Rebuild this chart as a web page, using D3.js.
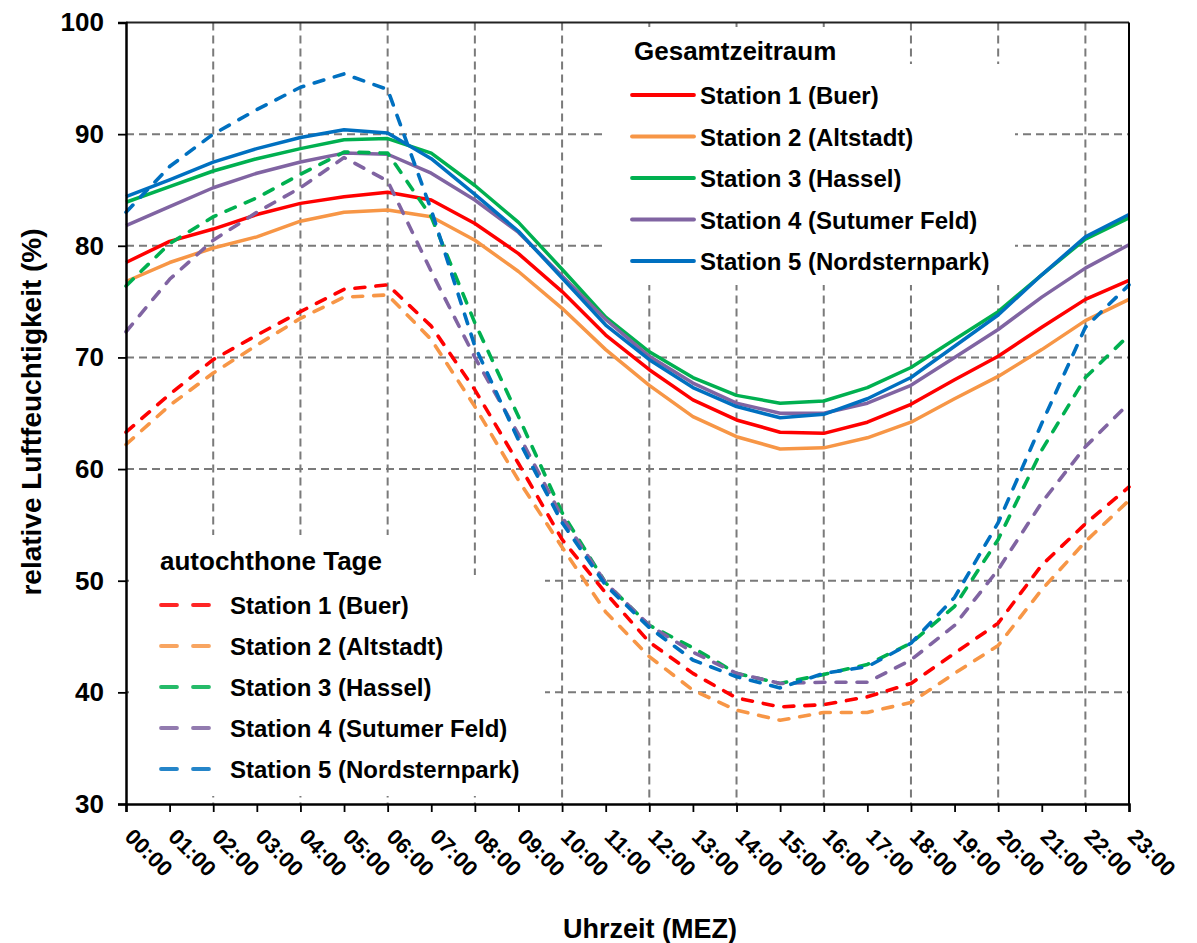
<!DOCTYPE html>
<html>
<head>
<meta charset="utf-8">
<script src="https://cdn.jsdelivr.net/npm/d3@7"></script>
<style>
  html, body { margin: 0; padding: 0; background: #fff; }
  svg { display: block; font-family: "Liberation Sans", Arial, sans-serif; font-weight: bold; }
</style>
</head>
<body>
<svg id="chart" width="1197" height="943"></svg>
<script>
// ---------- data ----------
const hours = ["00:00","01:00","02:00","03:00","04:00","05:00","06:00","07:00","08:00","09:00","10:00","11:00",
               "12:00","13:00","14:00","15:00","16:00","17:00","18:00","19:00","20:00","21:00","22:00","23:00"];
const stationNames = ["Station 1 (Buer)","Station 2 (Altstadt)","Station 3 (Hassel)","Station 4 (Sutumer Feld)","Station 5 (Nordsternpark)"];
const stationColors = ["#FF0000","#F79646","#00B050","#8064A2","#0070C0"];
const yTicks = [30,40,50,60,70,80,90,100];
const gridHours = ["02:00","04:00","06:00","08:00","10:00","12:00","14:00","16:00","18:00","20:00","22:00"];

// Gesamtzeitraum (solid)
const gesamtS1 = [78.5,80.4,81.5,82.8,83.8,84.4,84.8,84.1,82.0,79.3,75.9,72.0,68.9,66.2,64.4,63.3,63.2,64.2,65.8,68.0,70.1,72.7,75.2,76.9];
const gesamtS2 = [76.8,78.5,79.8,80.8,82.2,83.0,83.2,82.6,80.5,77.7,74.4,70.7,67.5,64.7,62.9,61.8,61.9,62.8,64.2,66.3,68.3,70.7,73.3,75.2];
const gesamtS3 = [83.9,85.3,86.7,87.8,88.7,89.5,89.6,88.3,85.4,82.1,77.9,73.6,70.5,68.2,66.6,65.9,66.1,67.3,69.1,71.6,74.1,77.4,80.6,82.5];
const gesamtS4 = [81.8,83.5,85.2,86.5,87.5,88.3,88.2,86.5,84.1,81.2,77.3,73.4,70.1,67.7,65.9,65.0,65.0,65.9,67.5,70.0,72.5,75.4,78.0,80.1];
const gesamtS5 = [84.4,85.9,87.5,88.7,89.7,90.4,90.1,87.8,84.6,81.3,77.1,72.9,69.8,67.3,65.6,64.6,64.9,66.3,68.2,71.0,73.8,77.4,80.8,82.8];

// autochthone Tage (dashed)
const autoS1 = [63.3,66.7,69.8,72.0,74.1,76.1,76.5,72.8,67.1,60.5,53.7,48.9,44.5,41.7,39.5,38.7,38.9,39.6,40.8,43.5,46.2,51.4,55.1,58.4];
const autoS2 = [62.2,65.7,68.6,71.1,73.5,75.4,75.6,71.6,65.6,59.0,53.0,47.2,43.2,40.2,38.4,37.5,38.2,38.2,39.1,41.7,44.2,49.2,53.5,57.2];
const autoS3 = [76.4,80.2,82.6,84.3,86.4,88.4,88.3,82.6,73.1,64.7,56.1,49.8,46.0,44.0,41.7,40.8,41.6,42.5,44.4,47.7,53.7,61.7,68.2,72.0];
const autoS4 = [72.3,77.0,80.5,83.0,85.2,87.9,85.8,77.7,70.0,63.1,55.7,49.8,46.0,43.6,41.7,40.8,40.9,40.9,42.9,46.0,51.0,57.0,62.0,65.9];
const autoS5 = [83.0,87.1,90.0,92.2,94.2,95.4,94.0,83.2,71.0,62.6,55.2,49.6,45.8,42.9,41.4,40.4,41.7,42.3,44.4,48.5,55.2,64.1,72.7,76.5];

const gesamtSeries = [gesamtS1,gesamtS2,gesamtS3,gesamtS4,gesamtS5];
const autoSeries = [autoS1,autoS2,autoS3,autoS4,autoS5];

// ---------- layout ----------
const svg = d3.select("#chart");
const L = 126, R = 1129, T = 22.5, B = 804;
const x = d3.scalePoint().domain(hours).range([L, R]);
const y = d3.scaleLinear().domain([30, 100]).range([B, T]);

// gridlines
const grid = svg.append("g").attr("stroke", "#7a7a7a").attr("stroke-width", 2).attr("stroke-dasharray", "8,5");
grid.selectAll("line.h").data(yTicks.filter(v => v > 30 && v < 100)).join("line")
  .attr("x1", L).attr("x2", R).attr("y1", d => y(d)).attr("y2", d => y(d));
grid.selectAll("line.v").data(gridHours).join("line")
  .attr("x1", d => x(d)).attr("x2", d => x(d)).attr("y1", T).attr("y2", B);

// legend backgrounds (white boxes covering gridlines)
const bg = svg.append("g").attr("fill", "#fff");
bg.append("rect").attr("x", 603).attr("y", 27).attr("width", 265).attr("height", 40);
bg.append("rect").attr("x", 603).attr("y", 64).attr("width", 412).attr("height", 221);
bg.append("rect").attr("x", 129).attr("y", 535).attr("width", 336).attr("height", 42);
bg.append("rect").attr("x", 129).attr("y", 575).attr("width", 416).attr("height", 221);

// lines
const line = d3.line().x((d, i) => x(hours[i])).y(d => y(d));
const lines = svg.append("g").attr("fill", "none").attr("stroke-linejoin", "round");
gesamtSeries.forEach((s, i) => {
  lines.append("path").datum(s).attr("d", line)
    .attr("stroke", stationColors[i]).attr("stroke-width", 3.5);
});
autoSeries.forEach((s, i) => {
  lines.append("path").datum(s).attr("d", line)
    .attr("stroke", stationColors[i]).attr("stroke-width", 3.6)
    .attr("stroke-dasharray", "10,11").attr("stroke-linecap", "round");
});

// frame
svg.append("line").attr("x1", L).attr("x2", R).attr("y1", T).attr("y2", T).attr("stroke", "#222").attr("stroke-width", 2);
svg.append("line").attr("x1", R).attr("x2", R).attr("y1", T).attr("y2", B).attr("stroke", "#000").attr("stroke-width", 2);

// axes
const yAxis = svg.append("g").attr("transform", `translate(${L},0)`)
  .call(d3.axisLeft(y).tickValues(yTicks).tickSize(8).tickPadding(14).tickFormat(d3.format("d")));
const xAxis = svg.append("g").attr("transform", `translate(0,${B})`)
  .call(d3.axisBottom(x).tickSize(8));
[yAxis, xAxis].forEach(a => {
  a.select(".domain").attr("stroke", "#000").attr("stroke-width", 2.5);
  a.selectAll(".tick line").attr("stroke", "#000").attr("stroke-width", 1.8);
});
yAxis.selectAll("text").attr("font-size", 26).attr("font-weight", "bold").attr("fill", "#000")
  .attr("font-family", "Liberation Sans, Arial, sans-serif");
xAxis.selectAll("text").attr("font-size", 22).attr("font-weight", "bold").attr("fill", "#000")
  .attr("font-family", "Liberation Sans, Arial, sans-serif")
  .attr("x", 0).attr("y", 0).attr("dy", null).attr("text-anchor", "start")
  .attr("transform", "translate(-3,34) rotate(45)");

// axis titles
svg.append("text").attr("transform", "translate(41,412) rotate(-90)").attr("text-anchor", "middle")
  .attr("font-size", 28).text("relative Luftfeuchtigkeit (%)");
svg.append("text").attr("x", 650).attr("y", 938).attr("text-anchor", "middle")
  .attr("font-size", 27).text("Uhrzeit (MEZ)");

// legend: Gesamtzeitraum
const lg1 = svg.append("g");
lg1.append("text").attr("x", 634).attr("y", 60).attr("font-size", 26).text("Gesamtzeitraum");
stationNames.forEach((n, i) => {
  const yy = 95 + i * 41.5;
  lg1.append("line").attr("x1", 632).attr("x2", 694).attr("y1", yy).attr("y2", yy)
    .attr("stroke", stationColors[i]).attr("stroke-width", 3.8).attr("stroke-linecap", "round");
  lg1.append("text").attr("x", 700).attr("y", yy + 9).attr("font-size", 24).text(n);
});

// legend: autochthone Tage
const lg2 = svg.append("g");
lg2.append("text").attr("x", 160).attr("y", 570).attr("font-size", 26).text("autochthone Tage");
stationNames.forEach((n, i) => {
  const yy = 605 + i * 41;
  lg2.append("line").attr("x1", 161).attr("x2", 210).attr("y1", yy).attr("y2", yy)
    .attr("stroke", stationColors[i]).attr("stroke-width", 3.8).attr("stroke-linecap", "round")
    .attr("stroke-dasharray", "16,16").attr("opacity", 0.85);
  lg2.append("text").attr("x", 230).attr("y", yy + 9).attr("font-size", 24).text(n);
});
</script>
</body>
</html>
